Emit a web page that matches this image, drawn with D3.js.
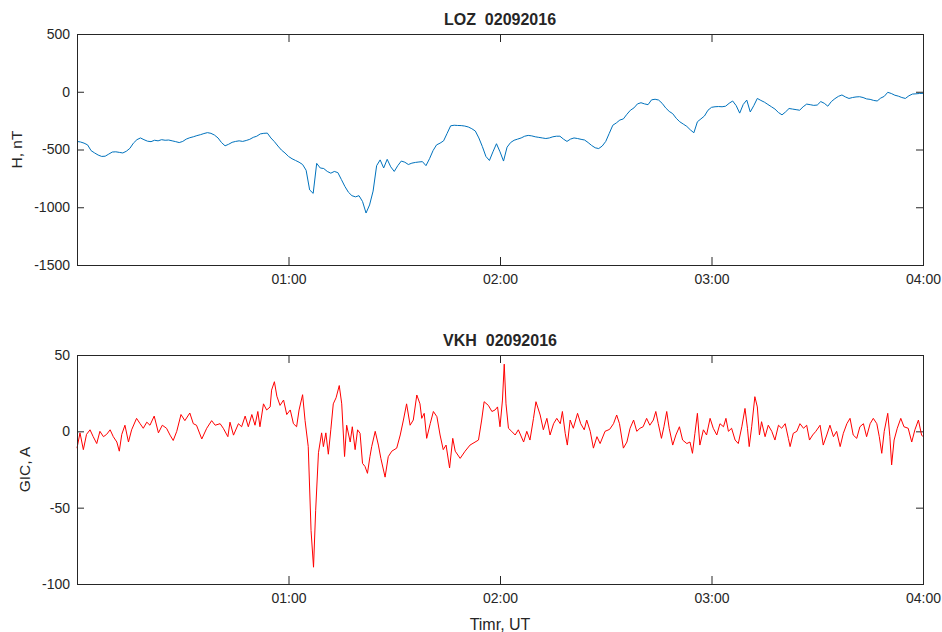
<!DOCTYPE html>
<html>
<head>
<meta charset="utf-8">
<script src="https://cdn.jsdelivr.net/npm/d3@7/dist/d3.min.js"></script>
<style>
  body { margin: 0; background: #fff; }
  text { font-family: "Liberation Sans", Arial, sans-serif; fill: #262626; }
</style>
</head>
<body>
<div id="chart"></div>
<script>
// H component at LOZ, one value per minute from 00:00 to 04:00 UT (nT)
var hValues = [
  -430, -435, -445, -460, -510, -530, -548, -560, -558, -540,
  -522, -520, -525, -530, -515, -490, -445, -415, -400, -415,
  -428, -432, -420, -425, -415, -420, -418, -425, -432, -440,
  -430, -410, -398, -390, -380, -372, -362, -354, -360, -375,
  -400, -440, -468, -455, -438, -430, -425, -430, -422, -412,
  -395, -385, -365, -360, -358, -400, -432, -470, -505, -530,
  -560, -580, -595, -610, -630, -680, -850, -880, -620, -660,
  -665, -690, -705, -690, -700, -760, -820, -870, -900, -910,
  -900, -950, -1050, -980, -860, -640, -590, -660, -585, -650,
  -690, -640, -600, -610, -630, -618, -612, -608, -605, -640,
  -580, -510, -460, -445, -425, -360, -295, -290, -292, -293,
  -297, -305, -320, -340, -400, -475, -560, -595, -520, -450,
  -520, -600, -480, -440, -420, -410, -400, -385, -378, -382,
  -390, -395, -400, -405, -400, -390, -385, -385, -410, -430,
  -410, -400, -405, -412, -418, -440, -465, -485, -492, -470,
  -430, -360, -290, -270, -245, -235, -195, -160, -140, -105,
  -95, -105, -112, -70, -65, -72, -100, -140, -170, -190,
  -230, -260, -280, -300, -330, -355, -260, -235, -210, -160,
  -135, -130, -128, -130, -125, -100, -80, -120, -185, -110,
  -72, -175, -120, -58, -75, -90, -110, -130, -150, -180,
  -200, -175, -145, -150, -155, -160, -130, -107, -112, -118,
  -115, -85, -100, -125, -85, -60, -40, -28, -45, -58,
  -50, -45, -43, -50, -62, -66, -75, -80, -55, -40,
  -5, -15, -30, -38, -50, -58, -35, -20, -18, -15,
  -14
]

// GIC at VKH: read times (minutes after 00:00 UT) and currents (A)
var gicTimes = [
  0, 0.85, 1.8, 2.7, 3.7, 4.6, 5.6, 6.5, 7.5, 8.4, 9.4, 10.3, 11.3, 12, 12.7, 13.6, 14.6, 15.5, 16.9, 17.9,
  18.8, 19.8, 20.7, 21.9, 23.1, 24.2, 25.4, 26.4, 27.3, 28.3, 29.5, 30.6, 32, 33, 33.9, 35.4, 36.8, 38.2, 39.2, 40.6,
  41.5, 42.8, 43.4, 44.4, 45.8, 46.7, 47.7, 48.6, 49.6, 50.5, 51.3, 51.9, 52.9, 53.8, 54.8, 55.2, 56, 56.7, 57.6, 58.6,
  59.5, 60.5, 61.4, 62.3, 63, 64, 64.7, 65.6, 66.4, 67.1, 67.7, 68.5, 69.4, 69.9, 70.6, 71.3, 72, 72.7, 73.5, 74.4,
  75.1, 75.9, 76.5, 77.5, 78.1, 78.9, 79.6, 80.3, 81, 81.7, 82.4, 83.1, 83.6, 84.6, 85.5, 86.2, 87.4, 88.3, 89.3, 90.7,
  91.7, 92.6, 93.5, 94.5, 95.4, 96.4, 97.3, 97.8, 98.5, 99.2, 100.2, 101.1, 102.1, 103, 103.9, 104.7, 105.7, 106.6, 107.3, 108.7,
  110.1, 111.5, 113.9, 114.8, 115.5, 116.7, 117.7, 118.6, 119.3, 120, 120.7, 121.2, 121.7, 122.4, 123.3, 124.3, 125.2, 126.7, 127.6, 128.5,
  129.5, 130.2, 131.4, 132.3, 133.3, 134.2, 135.2, 136.1, 137.1, 137.7, 138.5, 139.1, 139.9, 140.8, 142, 142.9, 143.9, 144.6, 145.6, 146.5,
  147.5, 148.4, 149.8, 151.1, 152.2, 153.1, 153.9, 155, 156, 156.9, 157.9, 158.8, 159.7, 160.6, 161.6, 162.5, 163.5, 164.2, 164.9, 165.8,
  166.5, 167.3, 168, 169, 169.9, 170.9, 171.8, 173, 173.9, 174.6, 175.3, 176, 176.7, 177.7, 178.6, 179.6, 180.5, 181.5, 182.4, 183.4,
  184.1, 184.8, 185.7, 186.7, 187.6, 188.6, 189.5, 190.2, 190.7, 191.4, 192.3, 193, 193.6, 194.2, 195.2, 196.1, 197.1, 198, 199, 199.9,
  200.9, 201.8, 202.3, 203.2, 204.2, 205.1, 206.1, 207, 207.8, 208.7, 209.6, 210.8, 211.7, 212.7, 213.6, 214.6, 215.5, 216.5, 217.4, 218.4,
  219.3, 220.2, 221.2, 222.1, 223.1, 224, 225, 225.9, 226.9, 227.6, 228.3, 229, 230, 230.6, 231.1, 231.8, 232.7, 233.7, 234.6, 235.8,
  236.8, 237.7, 238.7, 239.6, 240
]
var gicValues = [
  -11, -1, -12, -2, 1, -3.5, -8, 0, -3.5, -2, 1, -3.5, -7, -13, -2, 4, -7, 1, 8.5, 5,
  2, 6, 4, 10, -1, 4, 2, -2.5, -6, 0, 11, 7, 12, 5, 4, -5, 2, 7, 4, 5,
  2, -3.5, 6, -2.5, 5, 3, 10, 3, 11, 4, 13, 3, 18, 14, 16, 27, 32.5, 23, 17, 20.5,
  11, 14, 5, 3, 14, 24, 7, -10, -65, -89, -52, -14, -1, -10, -1, -15, 1, 18, 22, 30,
  18, -16.5, 4, -7, 3, -12, 1, -1.3, -21, -23, -27.5, -16.6, -10, 0, -9, -17.7, -30, -16.6, -13, -11,
  -2.4, 7.4, 18, 4, 7.4, 23.8, 18, 8.5, 11.8, -4.6, 5, 13, 9.6, -2.4, -12, -9, -24, -4.6, -13, -17.7,
  -13, -9, -5.7, 7.4, 19.4, 17, 13, 14, 16, 3, 20.5, 44, 18, 2, 0, -2.4, 1, -7, 0, -5.7,
  8.5, 19.4, 10.7, 1, 8.5, -2.4, 5, 8.5, 5, 13, -1.3, -9, 7.4, 2, 11.8, 5, 1, 7.4, 0, -11,
  -3.5, -8, 0, 1.3, 5, 10.7, 5, -11, -7, 2, 7.4, 0, 2, 3, 8.5, 4, 7.4, 13, 5, -4.6,
  3, 13, 2, -9, -2.4, 3, -5.7, -8, -7, -14.4, -1.3, 11.8, -9, 1, -2.4, 8.5, 2, -2.4, 5, 3,
  8.5, 0, 2, -5.7, -8, 3, 15, 2, -10, 3, 22.7, 16, -2.4, 6.3, -3.5, 4, 0, -5.7, 4, 2,
  5, -4.6, -10, -1.3, 0, 5, 2, 4, -5.7, -2.4, 0, 4, -9, -2.4, 4, -3.5, 0, -10, -1.3, 5,
  8.5, -2.4, -4.6, 3, 5, -3.5, 5, 8.5, 5, -3.5, -14.4, 0, 11.8, -3.5, -22, -5.7, 2, 8.5, 3, 2,
  -7, 1, 7.4, -2.4, -3.5
]

var timeTicks = [60, 120, 180, 240]
var hTicks = [-1500, -1000, -500, 0, 500]
var gicTicks = [-100, -50, 0, 50]

var width = 942, height = 632

var svg = d3.select("#chart")
  .append("svg")
  .attr("width", width)
  .attr("height", height)

var xScale = d3.scaleLinear().domain([0, 240]).range([77, 923])

function timeLabel(m) {
  var h = Math.floor(m / 60), mm = m % 60
  return (h < 10 ? "0" : "") + h + ":" + (mm < 10 ? "0" : "") + mm
}

// plain labels like matlab: -1500, not −1,500
function plainLabel(d) {
  return String(d)
}

function drawPanel(opts) {
  var y = d3.scaleLinear().domain(opts.domain).range([opts.bottom, opts.top])
  var g = svg.append("g")

  // bottom axis with labels, ticks pointing inward
  g.append("g")
    .attr("transform", "translate(0," + opts.bottom + ")")
    .call(d3.axisBottom(xScale).tickValues(timeTicks).tickFormat(timeLabel)
      .tickSizeInner(-8).tickSizeOuter(0).tickPadding(9))
  // top axis, ticks only
  g.append("g")
    .attr("transform", "translate(0," + opts.top + ")")
    .call(d3.axisTop(xScale).tickValues(timeTicks).tickFormat("")
      .tickSizeInner(-8).tickSizeOuter(0))
  g.append("g")
    .attr("transform", "translate(77,0)")
    .call(d3.axisLeft(y).tickValues(opts.ticks).tickFormat(plainLabel)
      .tickSizeInner(-7).tickSizeOuter(0).tickPadding(7))
  g.append("g")
    .attr("transform", "translate(923,0)")
    .call(d3.axisRight(y).tickValues(opts.ticks).tickFormat("")
      .tickSizeInner(-7).tickSizeOuter(0))

  g.selectAll(".domain").remove()
  g.selectAll(".tick line").attr("stroke", "#262626")
  g.selectAll(".tick text")
    .style("font-size", "14px")
    .attr("fill", "#262626")

  var line = d3.line()
    .x(function(d) { return xScale(d[0]) })
    .y(function(d) { return y(d[1]) })

  g.append("path")
    .datum(opts.points)
    .attr("d", line)
    .attr("fill", "none")
    .attr("stroke", opts.color)
    .attr("stroke-width", 1)
    .attr("stroke-linejoin", "round")

  // box round the axes
  g.append("rect")
    .attr("x", 77.5)
    .attr("y", opts.top + 0.5)
    .attr("width", 846)
    .attr("height", opts.bottom - opts.top)
    .attr("fill", "none")
    .attr("stroke", "#262626")
    .attr("stroke-width", 1)

  g.append("text")
    .attr("x", 500)
    .attr("y", opts.top - 9)
    .attr("text-anchor", "middle")
    .style("font-size", "16px")
    .style("font-weight", "bold")
    .style("white-space", "pre")
    .attr("fill", "#000")
    .text(opts.title)

  g.append("text")
    .attr("transform", "translate(" + opts.labelX + "," + ((opts.top + opts.bottom) / 2) + ") rotate(-90)")
    .attr("text-anchor", "middle")
    .style("font-size", "15.5px")
    .text(opts.ylabel)
}

var hPoints = hValues.map(function(v, i) { return [i, v] })
var gicPoints = gicValues.map(function(v, i) { return [gicTimes[i], v] })

drawPanel({
  top: 34, bottom: 265, domain: [-1500, 500], ticks: hTicks,
  points: hPoints, color: "#0072BD",
  title: "LOZ  02092016", ylabel: "H, nT", labelX: 22
})

drawPanel({
  top: 355, bottom: 584, domain: [-100, 50], ticks: gicTicks,
  points: gicPoints, color: "#FF0000",
  title: "VKH  02092016", ylabel: "GIC, A", labelX: 30
})

svg.append("text")
  .attr("x", 500)
  .attr("y", 630)
  .attr("text-anchor", "middle")
  .style("font-size", "16px")
  .text("Timr, UT")
</script>
</body>
</html>
